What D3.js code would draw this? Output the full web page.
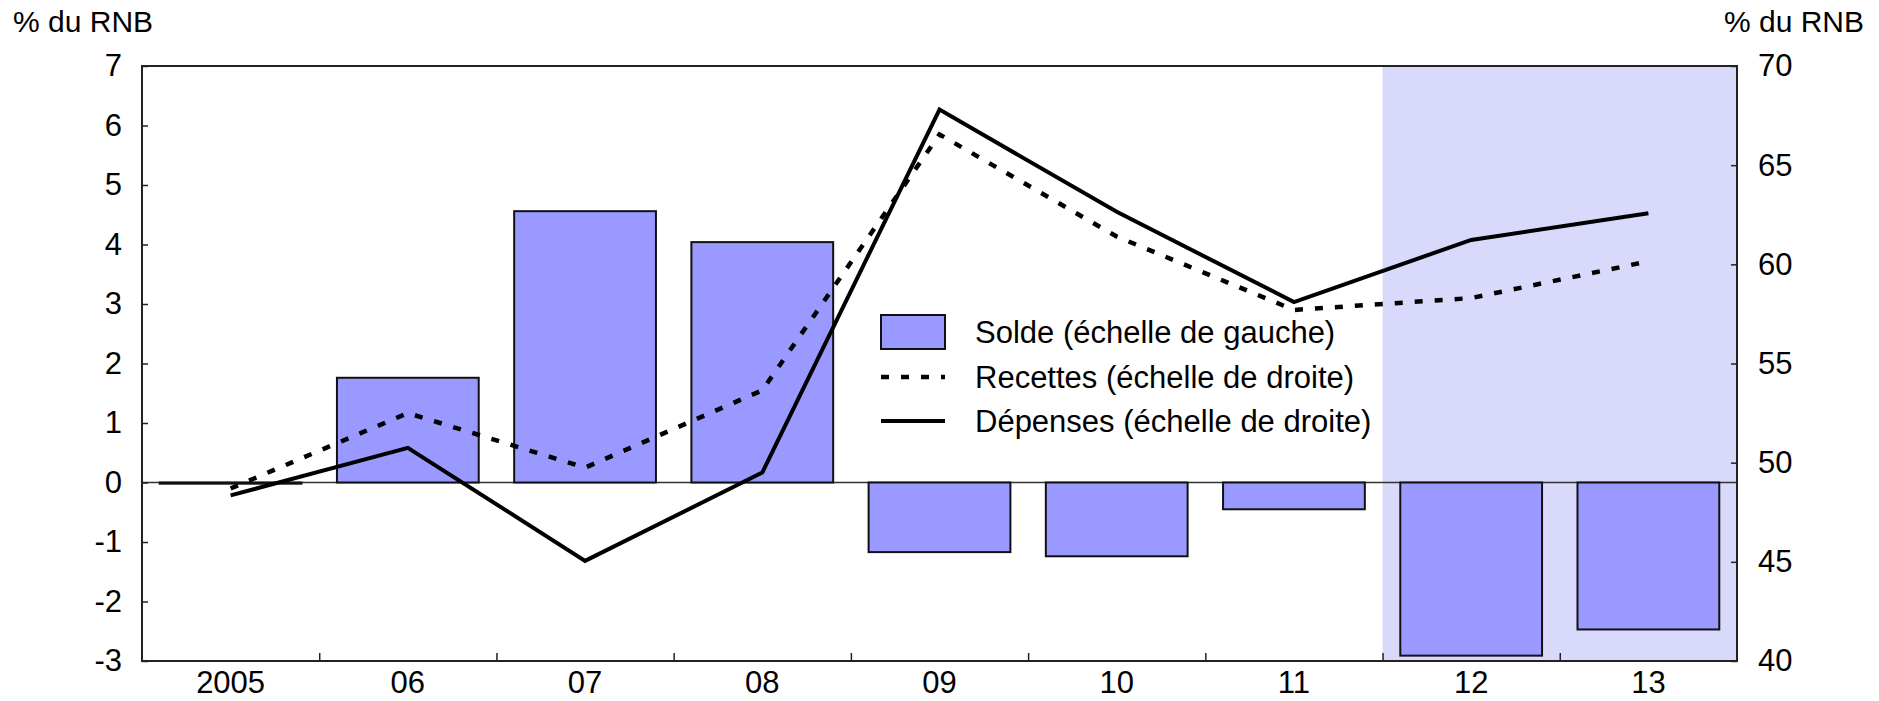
<!DOCTYPE html>
<html>
<head>
<meta charset="utf-8">
<script src="https://cdn.jsdelivr.net/npm/d3@7"></script>
<style>
  html, body { margin: 0; padding: 0; background: #fff; }
  svg { display: block; font-family: "Liberation Sans", Arial, Helvetica, sans-serif; }
</style>
</head>
<body>
<svg id="chart" width="1879" height="701"></svg>
<script>
// ---- Data ----
const categories = ["2005", "06", "07", "08", "09", "10", "11", "12", "13"];
const solde    = [-0.02, 1.76, 4.56, 4.04, -1.17, -1.24, -0.45, -2.91, -2.47];
const recettes = [48.7, 52.5, 49.75, 53.65, 66.55, 61.4, 57.7, 58.3, 60.15];
const depenses = [48.35, 50.75, 45.05, 49.5, 67.8, 62.65, 58.1, 61.23, 62.58];
const leftTicks = [-3, -2, -1, 0, 1, 2, 3, 4, 5, 6, 7];
const rightTicks = [40, 45, 50, 55, 60, 65, 70];
const shadedFrom = "12"; // projections
const legendLabels = ["Solde (échelle de gauche)", "Recettes (échelle de droite)", "Dépenses (échelle de droite)"];
const unitLabel = "% du RNB";

// ---- Layout ----
const L = 142, R = 1737, T = 66, B = 661;
const svg = d3.select("#chart");
const fontSize = 31;

const x = d3.scaleBand().domain(categories).range([L, R]).paddingInner(0.2).paddingOuter(0.1);
const xEdge = d3.scaleLinear().domain([0, categories.length]).range([L, R]);
const yL = d3.scaleLinear().domain([-3, 7]).range([B, T]);
const yR = d3.scaleLinear().domain([40, 70]).range([B, T]);
const cx = c => x(c) + x.bandwidth() / 2;

// shaded projection area
const si = categories.indexOf(shadedFrom);
svg.append("rect")
  .attr("x", xEdge(si)).attr("y", T)
  .attr("width", xEdge(categories.length) - xEdge(si)).attr("height", B - T)
  .attr("fill", "#d9d9fc");

// zero line
svg.append("line")
  .attr("x1", L).attr("x2", R).attr("y1", yL(0)).attr("y2", yL(0))
  .attr("stroke", "#333").attr("stroke-width", 1.5);

// bars
svg.append("g").selectAll("rect").data(categories).join("rect")
  .attr("x", d => x(d))
  .attr("width", x.bandwidth())
  .attr("y", (d, i) => yL(Math.max(0, solde[i])))
  .attr("height", (d, i) => Math.abs(yL(solde[i]) - yL(0)))
  .attr("fill", "#9999ff")
  .attr("stroke", "#111").attr("stroke-width", 2);

// lines
const line = d3.line().x(d => cx(d.c)).y(d => yR(d.v));
svg.append("path")
  .datum(categories.map((c, i) => ({ c, v: recettes[i] })))
  .attr("d", line).attr("fill", "none")
  .attr("stroke", "#000").attr("stroke-width", 4.5)
  .attr("stroke-dasharray", "8,12");
svg.append("path")
  .datum(categories.map((c, i) => ({ c, v: depenses[i] })))
  .attr("d", line).attr("fill", "none")
  .attr("stroke", "#000").attr("stroke-width", 4)
  .attr("stroke-linejoin", "miter");

// frame
svg.append("rect")
  .attr("x", L).attr("y", T).attr("width", R - L).attr("height", B - T)
  .attr("fill", "none").attr("stroke", "#222").attr("stroke-width", 2);

// axes
const styleAxis = g => {
  g.select(".domain").remove();
  g.selectAll("line").attr("stroke", "#222").attr("stroke-width", 1.5);
  g.selectAll("text").attr("fill", "#000").style("font-size", fontSize + "px")
    .style("font-family", '"Liberation Sans", Arial, sans-serif');
};
const fmt = d => String(d);

svg.append("g").attr("transform", `translate(${L},0)`)
  .call(d3.axisLeft(yL).tickValues(leftTicks).tickSize(-6).tickPadding(20).tickFormat(fmt))
  .call(styleAxis);

svg.append("g").attr("transform", `translate(${R},0)`)
  .call(d3.axisRight(yR).tickValues(rightTicks).tickSize(-6).tickPadding(21).tickFormat(fmt))
  .call(styleAxis);

svg.append("g").attr("transform", `translate(0,${B})`)
  .call(d3.axisBottom(xEdge).tickValues(d3.range(1, categories.length)).tickSize(-8).tickFormat(""))
  .call(styleAxis);

svg.append("g").attr("transform", `translate(0,${B})`)
  .call(d3.axisBottom(x).tickSize(0).tickPadding(10))
  .call(styleAxis);

// unit labels
svg.append("text").attr("x", 13).attr("y", 32).text(unitLabel)
  .style("font-size", "30px").attr("fill", "#000");
svg.append("text").attr("x", 1864).attr("y", 32).attr("text-anchor", "end").text(unitLabel)
  .style("font-size", "30px").attr("fill", "#000");

// legend
const lg = svg.append("g");
const lx = 881, lw = 64, tx = 975, rowY = [332, 377, 421];
lg.append("rect").attr("x", lx).attr("y", rowY[0] - 17).attr("width", lw).attr("height", 34)
  .attr("fill", "#9999ff").attr("stroke", "#111").attr("stroke-width", 2);
lg.append("line").attr("x1", lx).attr("x2", lx + lw).attr("y1", rowY[1]).attr("y2", rowY[1])
  .attr("stroke", "#000").attr("stroke-width", 4.5).attr("stroke-dasharray", "8,12");
lg.append("line").attr("x1", lx).attr("x2", lx + lw).attr("y1", rowY[2]).attr("y2", rowY[2])
  .attr("stroke", "#000").attr("stroke-width", 4);
legendLabels.forEach((t, i) => {
  lg.append("text").attr("x", tx).attr("y", rowY[i]).attr("dy", "0.35em")
    .text(t).style("font-size", fontSize + "px").attr("fill", "#000");
});
</script>
</body>
</html>
